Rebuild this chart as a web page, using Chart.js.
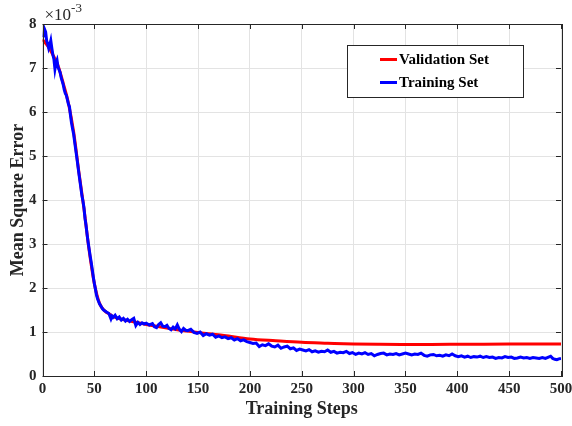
<!DOCTYPE html>
<html>
<head>
<meta charset="utf-8">
<script src="https://cdn.jsdelivr.net/npm/chart.js@4.4.1/dist/chart.umd.min.js"></script>
<style>
  html, body { margin: 0; padding: 0; background: #fff; }
  #wrap { width: 572px; height: 426px; }
</style>
</head>
<body>
<div id="wrap"><canvas id="chart" width="572" height="426"></canvas></div>
<script>
// values in units of 1e-3
const validationSteps = [0, 5, 10, 15, 20, 25, 30, 35, 40, 45, 50, 55, 60, 65, 70, 80, 90, 100, 110, 120, 130, 140, 150, 160, 175, 200, 225, 250, 275, 300, 325, 350, 375, 400, 450, 500];
const validationMse = [7.65, 7.5, 7.3, 7.05, 6.65, 6.2, 5.55, 4.65, 3.8, 2.85, 2.1, 1.65, 1.48, 1.4, 1.33, 1.27, 1.22, 1.17, 1.13, 1.09, 1.05, 1.02, 0.99, 0.96, 0.92, 0.84, 0.8, 0.765, 0.745, 0.727, 0.72, 0.718, 0.718, 0.72, 0.725, 0.73];

const trainingSteps = [1, 2, 3, 4, 5, 6, 7, 8, 9, 10, 11, 12, 13, 14, 15, 16, 17, 18, 19, 20,
  21, 22, 23, 24, 25, 26, 27, 28, 29, 30, 31, 32, 33, 34, 35, 36, 37, 38, 39, 40,
  41, 42, 43, 44, 45, 46, 47, 48, 49, 50, 51, 52, 53, 54, 55, 56, 57, 58, 59, 60,
  62, 64, 66, 67, 68, 70, 72, 74, 76, 78, 80, 82, 84, 86, 88, 90, 92, 94, 96, 98, 100,
  103, 106, 108, 110, 112, 114, 116, 118, 120, 122, 124, 126, 128, 130, 132, 134, 136, 138, 140,
  143, 146, 149, 152, 155, 158, 161, 164, 167, 170, 173, 176, 179, 182, 185, 188, 191, 194, 197, 200,
  203, 206, 209, 212, 215, 218, 221, 224, 227, 230, 233, 236, 239, 242, 245, 248, 251, 254, 257, 260,
  263, 266, 269, 272, 275, 278, 281, 284, 287, 290, 293, 296, 299, 302, 305, 308, 311, 314, 317, 320,
  323, 326, 329, 332, 335, 338, 341, 344, 347, 350, 353, 356, 359, 362, 365, 368, 371, 374, 377, 380,
  383, 386, 389, 392, 395, 398, 401, 404, 407, 410, 413, 416, 419, 422, 425, 428, 431, 434, 437, 440,
  443, 446, 449, 452, 455, 458, 461, 464, 467, 470, 473, 476, 479, 482, 485, 488, 490, 492, 494, 496, 498, 500];
const trainingMse = [7.70, 7.88, 7.82, 7.62, 7.55, 7.45, 7.52, 7.62, 7.45, 7.30, 7.20, 6.98, 7.12, 7.18, 7.02, 6.96, 6.90, 6.78, 6.70, 6.62,
  6.50, 6.42, 6.38, 6.28, 6.18, 6.12, 5.92, 5.75, 5.62, 5.50, 5.32, 5.15, 4.98, 4.80, 4.62, 4.45, 4.28, 4.10, 3.98, 3.82,
  3.58, 3.42, 3.22, 3.04, 2.88, 2.72, 2.58, 2.42, 2.25, 2.10, 1.98, 1.85, 1.76, 1.70, 1.64, 1.60, 1.56, 1.52, 1.50, 1.48,
  1.45, 1.42, 1.30, 1.36, 1.33, 1.38, 1.30, 1.34, 1.27, 1.31, 1.25, 1.29, 1.24, 1.28, 1.31, 1.15, 1.22, 1.17, 1.21, 1.18, 1.20,
  1.16, 1.19, 1.12, 1.10, 1.17, 1.21, 1.13, 1.12, 1.15, 1.08, 1.05, 1.11, 1.07, 1.16, 1.06, 1.01, 1.08, 1.04, 1.03,
  1.06, 0.99, 0.97, 1.00, 0.92, 0.96, 0.93, 0.95, 0.88, 0.91, 0.87, 0.89, 0.85, 0.87, 0.82, 0.85, 0.80, 0.82, 0.78, 0.76,
  0.74, 0.75, 0.67, 0.71, 0.69, 0.73, 0.68, 0.66, 0.70, 0.63, 0.66, 0.68, 0.62, 0.64, 0.58, 0.61, 0.59, 0.57, 0.60, 0.55,
  0.57, 0.54, 0.56, 0.55, 0.59, 0.54, 0.56, 0.52, 0.54, 0.53, 0.56, 0.51, 0.53, 0.49, 0.52, 0.50, 0.53, 0.49, 0.51, 0.46,
  0.49, 0.51, 0.52, 0.48, 0.50, 0.49, 0.51, 0.48, 0.50, 0.52, 0.50, 0.48, 0.50, 0.49, 0.52, 0.47, 0.45, 0.48, 0.49, 0.46,
  0.47, 0.45, 0.48, 0.46, 0.50, 0.46, 0.44, 0.46, 0.43, 0.45, 0.42, 0.44, 0.43, 0.45, 0.42, 0.44, 0.42, 0.43, 0.40, 0.42,
  0.41, 0.44, 0.42, 0.43, 0.40, 0.41, 0.43, 0.41, 0.42, 0.40, 0.42, 0.41, 0.40, 0.42, 0.40, 0.43, 0.45, 0.40, 0.38, 0.37, 0.39, 0.40];

const xTicks = [0, 50, 100, 150, 200, 250, 300, 350, 400, 450, 500];
const yTicks = [0, 1, 2, 3, 4, 5, 6, 7, 8];

const serif = '"Liberation Serif", "Times New Roman", serif';
const ink = '#262626';

const toPoints = (xs, ys) => xs.map((x, i) => ({ x: x, y: ys[i] }));

// box, inward ticks, exponent label and legend, MATLAB style
const axesBox = {
  id: 'axesBox',
  afterDraw(chart) {
    const { ctx, chartArea: a, scales } = chart;
    ctx.save();
    ctx.strokeStyle = ink;
    ctx.lineWidth = 1;
    ctx.strokeRect(Math.round(a.left) + 0.5, Math.round(a.top) + 0.5,
      Math.round(a.right - a.left), Math.round(a.bottom - a.top));

    const tl = 5;
    ctx.beginPath();
    xTicks.forEach(v => {
      const x = Math.round(scales.x.getPixelForValue(v)) + 0.5;
      ctx.moveTo(x, a.bottom); ctx.lineTo(x, a.bottom - tl);
      ctx.moveTo(x, a.top); ctx.lineTo(x, a.top + tl);
    });
    yTicks.forEach(v => {
      const y = Math.round(scales.y.getPixelForValue(v)) + 0.5;
      ctx.moveTo(a.left, y); ctx.lineTo(a.left + tl, y);
      ctx.moveTo(a.right, y); ctx.lineTo(a.right - tl, y);
    });
    ctx.stroke();

    // x10^-3
    ctx.fillStyle = ink;
    ctx.textBaseline = 'alphabetic';
    ctx.textAlign = 'left';
    ctx.font = '17px ' + serif;
    ctx.fillText('\u00d710', a.left + 2, 20);
    const w = ctx.measureText('\u00d710').width;
    ctx.font = '13px ' + serif;
    ctx.fillText('-3', a.left + 2 + w, 12);

    // legend
    const lx = 347, ly = 45, lw = 176, lh = 52;
    ctx.fillStyle = '#fff';
    ctx.fillRect(lx, ly, lw, lh);
    ctx.strokeStyle = ink;
    ctx.strokeRect(lx + 0.5, ly + 0.5, lw, lh);
    ctx.font = 'bold 15px ' + serif;
    ctx.textBaseline = 'middle';
    chart.data.datasets.forEach((ds, i) => {
      const y = ly + 14.5 + i * 23;
      ctx.strokeStyle = ds.borderColor;
      ctx.lineWidth = 3;
      ctx.beginPath();
      ctx.moveTo(380, y); ctx.lineTo(397, y);
      ctx.stroke();
      ctx.fillStyle = '#000';
      ctx.fillText(ds.label, 399, y + 1);
    });
    ctx.restore();
  }
};

new Chart(document.getElementById('chart'), {
  type: 'line',
  data: {
    datasets: [
      {
        label: 'Validation Set',
        data: toPoints(validationSteps, validationMse),
        borderColor: '#ff0000',
        borderWidth: 3,
        pointRadius: 0,
        cubicInterpolationMode: 'monotone',
        order: 2
      },
      {
        label: 'Training Set',
        data: toPoints(trainingSteps, trainingMse),
        borderColor: '#0000ff',
        borderWidth: 3,
        pointRadius: 0,
        tension: 0,
        order: 1
      }
    ]
  },
  options: {
    responsive: false,
    animation: false,
    layout: { padding: { top: 24, right: 11, left: 0, bottom: 0 } },
    plugins: { legend: { display: false }, tooltip: { enabled: false } },
    scales: {
      x: {
        type: 'linear',
        min: 0,
        max: 500,
        afterFit: s => { s.height = 50; s.paddingLeft = 0; s.paddingRight = 0; },
        afterBuildTicks: s => { s.ticks = xTicks.map(v => ({ value: v })); },
        grid: { color: '#e3e3e3', lineWidth: 1, drawTicks: false },
        border: { display: false },
        ticks: { color: ink, padding: 4, maxRotation: 0, font: { family: serif, size: 15, weight: 'bold' } },
        title: {
          display: true,
          text: 'Training Steps',
          color: ink,
          padding: { top: 0, bottom: 6 },
          font: { family: serif, size: 18, weight: 'bold' }
        }
      },
      y: {
        min: 0,
        max: 8,
        afterFit: s => { s.width = 42.5; s.paddingTop = 0; s.paddingBottom = 0; },
        afterBuildTicks: s => { s.ticks = yTicks.map(v => ({ value: v })); },
        grid: { color: '#e3e3e3', lineWidth: 1, drawTicks: false },
        border: { display: false },
        ticks: { color: ink, padding: 6, font: { family: serif, size: 15, weight: 'bold' } },
        title: {
          display: true,
          text: 'Mean Square Error',
          color: ink,
          padding: { top: 8, bottom: 0 },
          font: { family: serif, size: 18, weight: 'bold' }
        }
      }
    }
  },
  plugins: [axesBox]
});
</script>
</body>
</html>
